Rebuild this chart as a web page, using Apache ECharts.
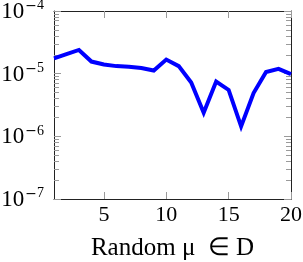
<!DOCTYPE html>
<html>
<head>
<meta charset="utf-8">
<script src="https://cdn.jsdelivr.net/npm/echarts@6/dist/echarts.min.js"></script>
<style>
  html, body { margin: 0; padding: 0; background: #fff; }
  #chart { width: 303px; height: 262px; }
</style>
</head>
<body>
<div id="chart"></div>
<script>
// data
const runIndex = [1, 2, 3, 4, 5, 6, 7, 8, 9, 10, 11, 12, 13, 14, 15, 16, 17, 18, 19, 20];
const errorValues = [1.76e-5, 2.05e-5, 2.39e-5, 1.56e-5, 1.40e-5, 1.32e-5, 1.29e-5, 1.23e-5, 1.12e-5, 1.68e-5,
                     1.32e-5, 7.2e-6, 2.38e-6, 7.5e-6, 5.5e-6, 1.44e-6, 4.9e-6, 1.06e-5, 1.19e-5, 9.8e-6];
const xTickLabels = [5, 10, 15, 20];
const yDecades = [-7, -6, -5, -4];

const serif = 'Liberation Serif';
const frameColor = '#222';
const tickColor = '#9a9a9a';

// minor log ticks (2..9 x 10^n), expressed as exponents for the helper axes
const minorExponents = [];
for (let d = yDecades[0]; d < yDecades[yDecades.length - 1]; d++) {
    for (let k = 2; k <= 9; k++) {
        minorExponents.push(d + Math.log10(k));
    }
}

const chart = echarts.init(document.getElementById('chart'), null, {renderer: 'canvas'});

const mainX = {
    type: 'value',
    min: 1,
    max: 20,
    position: 'bottom',
    splitLine: {show: false},
    axisLine: {lineStyle: {color: frameColor, width: 1}},
    axisTick: {inside: true, length: 7, customValues: xTickLabels, lineStyle: {color: tickColor}},
    axisLabel: {
        customValues: xTickLabels,
        margin: 5,
        fontFamily: serif,
        fontSize: 22,
        color: '#000'
    },
    name: 'Random μ  ∈ D',
    nameLocation: 'middle',
    nameGap: 37,
    nameTextStyle: {fontFamily: serif, fontSize: 25, color: '#000'}
};

const topX = {
    type: 'value',
    min: 1,
    max: 20,
    position: 'top',
    splitLine: {show: false},
    axisLine: {lineStyle: {color: frameColor, width: 1}},
    axisTick: {inside: true, length: 7, customValues: xTickLabels, lineStyle: {color: tickColor}},
    axisLabel: {show: false}
};

function logAxis (side, withLabels) {
    return {
        type: 'log',
        logBase: 10,
        min: Math.pow(10, yDecades[0]),
        max: Math.pow(10, yDecades[yDecades.length - 1]),
        position: side,
        splitLine: {show: false},
        axisLine: {show: true, onZero: false, lineStyle: {color: frameColor, width: 1}},
        axisTick: {inside: true, length: 7, lineStyle: {color: tickColor}},
        axisLabel: {
            show: withLabels,
            margin: 10,
            formatter: (v) => {
                const e = Math.round(Math.log10(v));
                return '{b|10}{m|' + (e < 0 ? '−' : '') + '}{s|' + Math.abs(e) + '}';
            },
            rich: {
                b: {fontFamily: serif, fontSize: 23, color: '#000', padding: [2, 0, 0, 0]},
                m: {fontFamily: 'DejaVu Serif', fontSize: 14, color: '#000', verticalAlign: 'top', padding: [1, 0, 0, 1]},
                s: {fontFamily: serif, fontSize: 14, color: '#000', verticalAlign: 'top'}
            }
        }
    };
}

function minorAxis (side) {
    return {
        type: 'value',
        min: yDecades[0],
        max: yDecades[yDecades.length - 1],
        position: side,
        splitLine: {show: false},
        axisLine: {show: false},
        axisTick: {show: true, inside: true, length: 5, customValues: minorExponents, lineStyle: {color: tickColor}},
        axisLabel: {show: false}
    };
}

chart.setOption({
    animation: false,
    backgroundColor: '#fff',
    grid: {left: 54, right: 12, top: 11, bottom: 63, containLabel: false, outerBoundsMode: 'none'},
    xAxis: [mainX, topX],
    yAxis: [logAxis('left', true), logAxis('right', false), minorAxis('left'), minorAxis('right')],
    series: [
        {
            type: 'line',
            xAxisIndex: 0,
            yAxisIndex: 0,
            data: runIndex.map((x, i) => [x, errorValues[i]]),
            showSymbol: false,
            symbol: 'none',
            lineStyle: {color: '#0000ff', width: 4, join: 'miter'},
            z: 1
        }
    ]
});
</script>
</body>
</html>
